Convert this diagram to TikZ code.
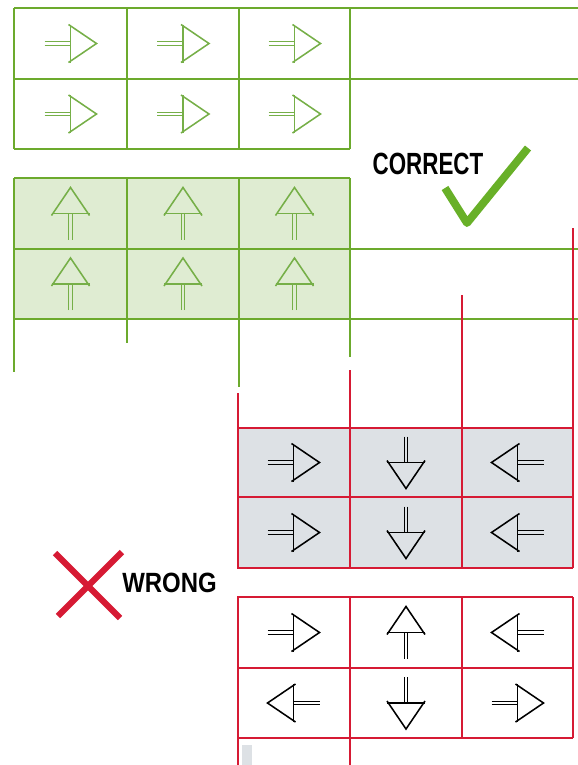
\documentclass[tikz,border=0pt]{standalone}
\usepackage{fontspec}
\setmainfont{Liberation Sans}

\definecolor{gline}{RGB}{108,170,45}
\definecolor{gfill}{RGB}{223,236,210}
\definecolor{garrow}{RGB}{118,175,72}
\definecolor{rline}{RGB}{214,26,52}
\definecolor{rfill}{RGB}{221,225,229}
\definecolor{tick}{RGB}{104,176,40}

\tikzset{
	grn/.style={draw=gline, line width=1.4pt},
	rd/.style={draw=rline, line width=1.4pt},
	label/.style={inner sep=0pt, font=\bfseries},
	pics/flow/.style={code={
		\draw[line width=0.75pt] (-26,-1.8) -- (0,-1.8) (-26,1.8) -- (0,1.8);
		\draw (0,-19) -- (0,19);
		\draw (-2,-19) -- (26,0) -- (-2,19);
	}},
}

\begin{document}
	\begin{tikzpicture}[x=0.025cm, y=-0.025cm]
		\useasboundingbox (0,0) rectangle (578,765);

		% green, correct
		\draw[grn] (14,8) -- (578,8) (14,79) -- (578,79) (14,149) -- (350,149);
		\foreach \x in {14,127,239,350}
			\draw[grn] (\x,8) -- (\x,149);

		\fill[gfill] (14,178) rectangle (350,319);
		\draw[grn] (14,178) -- (350,178) (14,249) -- (578,249) (14,319) -- (578,319);
		\foreach \x/\e in {14/372,127/343,239/387,350/357}
			\draw[grn] (\x,178) -- (\x,\e);

		\foreach \x in {70.5,183,294.5} {
			\foreach \y in {43.5,114}
				\pic[color=garrow, line width=1.1pt] at (\x,\y) {flow};
			\foreach \y in {213.5,284}
				\pic[color=garrow, line width=1.1pt, rotate=90] at (\x,\y) {flow};
		}

		% red, wrong
		\fill[rfill] (237,428) rectangle (573,568);
		\draw[rd] (237,428) -- (573,428) (237,497) -- (573,497) (237,568) -- (573,568);
		\foreach \x/\s in {238/393,350/370,462/295,573/228}
			\draw[rd] (\x,\s) -- (\x,568);

		\draw[rd] (237,597) -- (573,597) (237,668) -- (573,668) (237,738) -- (573,738);
		\foreach \x/\e in {238/765,350/765,462/738,573/738}
			\draw[rd] (\x,597) -- (\x,\e);
		\fill[rfill] (242,745) rectangle (252,765);

		\foreach \y in {462.5,532.5} {
			\pic[line width=1.1pt] at (293.5,\y) {flow};
			\pic[line width=1.1pt, rotate=-90] at (406,\y) {flow};
			\pic[line width=1.1pt, rotate=180] at (517.5,\y) {flow};
		}
		\foreach \x/\a/\b in {293.5/0/180,406/90/-90,517.5/180/0} {
			\pic[line width=1.1pt, rotate=\a] at (\x,632.5) {flow};
			\pic[line width=1.1pt, rotate=\b] at (\x,703) {flow};
		}

		\node[label] (correct) at (428,164) {\fontsize{21.8}{22}\selectfont\scalebox{0.73}[1]{CORRECT}};
		\draw[tick, line width=5.6pt, line join=round] (445,188) -- (467,223) -- (528,148);

		\node[label] (wrong) at (169.5,583) {\fontsize{19.8}{20}\selectfont\scalebox{0.86}[1]{WRONG}};
		\draw[rline, line width=4.3pt] (55,553) -- (120,618) (122,552) -- (58,616);
	\end{tikzpicture}
\end{document}
